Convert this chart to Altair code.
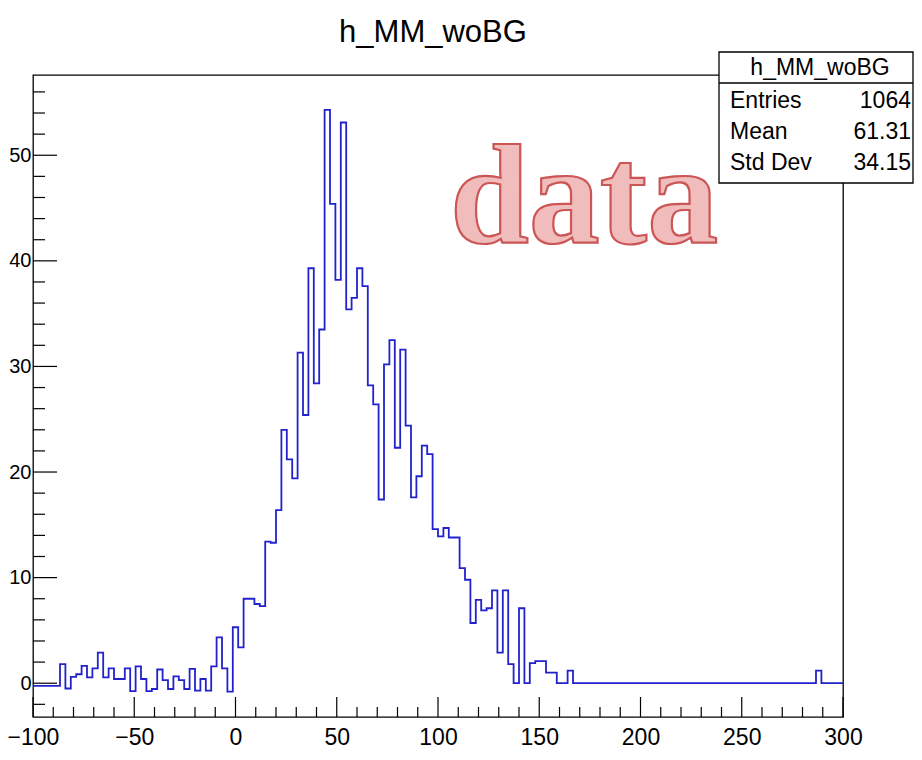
import altair as alt
import pandas as pd

# ---------------- data ----------------
TITLE = "h_MM_woBG"
X_MIN, X_MAX, N_BINS = -100.0, 300.0, 150
Y_MIN, Y_MAX = -3.2, 57.6

counts = [
    -0.25, -0.25, -0.25, -0.25, -0.25, 1.8, -0.5, 0.6, 0.85, 1.65,
    0.55, 1.4, 2.9, 0.55, 1.4, 0.4, 0.4, 1.4, -0.75, 1.6,
    0.4, -0.75, -0.55, 1.3, 0.3, -0.55, 0.65, 0.3, -0.55, 1.35,
    -0.7, 0.4, -0.7, 1.6, 4.35, 1.4, -0.8, 5.3, 3.4, 8.0,
    8.0, 7.5, 7.3, 13.4, 13.3, 16.4, 24.0, 21.2, 19.4, 31.3,
    25.4, 39.3, 28.4, 33.5, 54.3, 45.4, 38.2, 53.1, 35.4, 36.5,
    39.3, 37.6, 28.2, 26.4, 17.4, 30.2, 32.5, 22.3, 31.6, 24.4,
    17.6, 19.6, 22.5, 21.7, 14.6, 13.9, 14.7, 13.8, 13.8, 10.9,
    9.8, 5.7, 7.9, 6.9, 7.1, 8.8, 2.9, 8.8, 1.8, 0.0,
    7.1, 0.0, 1.9, 2.1, 2.1, 1.0, 1.0, 0.0, 0.0, 1.2,
    0, 0, 0, 0, 0, 0, 0, 0, 0, 0,
    0, 0, 0, 0, 0, 0, 0, 0, 0, 0,
    0, 0, 0, 0, 0, 0, 0, 0, 0, 0,
    0, 0, 0, 0, 0, 0, 0, 0, 0, 0,
    0, 0, 0, 0, 0, 1.2, 0, 0, 0, 0,
]

stat_labels = ["Entries", "Mean", "Std Dev"]
stat_values = ["1064", "61.31", "34.15"]
watermark = "data"

x_major = [-100, -50, 0, 50, 100, 150, 200, 250, 300]
x_minor = [-90, -80, -70, -60, -40, -30, -20, -10, 10, 20, 30, 40,
           60, 70, 80, 90, 110, 120, 130, 140, 160, 170, 180, 190,
           210, 220, 230, 240, 260, 270, 280, 290]
y_major = [0, 10, 20, 30, 40, 50]
y_minor = [-2, 2, 4, 6, 8, 12, 14, 16, 18, 22, 24, 26, 28, 32, 34, 36, 38,
           42, 44, 46, 48, 52, 54, 56]

# ---------------- layout ----------------
W, H = 810, 642
FONT = "Liberation Sans"
LINE_COLOR = "#2222cc"

bw = (X_MAX - X_MIN) / N_BINS
edges = [X_MIN + i * bw for i in range(N_BINS + 1)]
hist = pd.DataFrame({"x": edges, "y": counts + [counts[-1]]})

xs = alt.Scale(domain=[X_MIN, X_MAX], nice=False, zero=False)
ys = alt.Scale(domain=[Y_MIN, Y_MAX], nice=False, zero=False)

xaxis = alt.Axis(values=x_major, ticks=False, domain=False, grid=False,
                 labelFontSize=23, labelFont=FONT, labelColor="black",
                 labelPadding=9, labelFlush=False, labelOverlap=False, title=None)
yaxis = alt.Axis(values=y_major, ticks=False, domain=False, grid=False,
                 labelFontSize=20, labelFont=FONT, labelColor="black",
                 labelPadding=2, labelOverlap=False, title=None)

line = alt.Chart(hist).mark_line(
    interpolate="step-after", color=LINE_COLOR, strokeWidth=1.8
).encode(
    x=alt.X("x:Q", scale=xs, axis=xaxis),
    y=alt.Y("y:Q", scale=ys, axis=yaxis),
    order="x:Q",
)

xmaj = alt.Chart(pd.DataFrame({"x": x_major})).mark_rule(color="black", strokeWidth=1.2).encode(
    x=alt.X("x:Q", scale=xs, axis=xaxis), y=alt.value(H), y2=alt.value(H - 20))
xmin_ = alt.Chart(pd.DataFrame({"x": x_minor})).mark_rule(color="black", strokeWidth=1.2).encode(
    x=alt.X("x:Q", scale=xs, axis=xaxis), y=alt.value(H), y2=alt.value(H - 10))
ymaj = alt.Chart(pd.DataFrame({"y": y_major})).mark_rule(color="black", strokeWidth=1.2).encode(
    y=alt.Y("y:Q", scale=ys, axis=yaxis), x=alt.value(0), x2=alt.value(24))
ymin_ = alt.Chart(pd.DataFrame({"y": y_minor})).mark_rule(color="black", strokeWidth=1.2).encode(
    y=alt.Y("y:Q", scale=ys, axis=yaxis), x=alt.value(0), x2=alt.value(12))

one = pd.DataFrame({"a": [0]})

title_txt = alt.Chart(pd.DataFrame({"t": [TITLE]})).mark_text(
    font=FONT, fontSize=31, color="black", align="center", baseline="alphabetic"
).encode(text="t:N", x=alt.value(400), y=alt.value(-33))

wm = alt.Chart(pd.DataFrame({"t": [watermark]})).mark_text(
    font="Liberation Serif", fontWeight="bold", fontSize=142, fill="#f0bcbc",
    stroke="#cc5555", strokeWidth=2.2, align="center", baseline="alphabetic"
).encode(text="t:N", x=alt.value(551), y=alt.value(168))

box = alt.Chart(one).mark_rect(fill="white", stroke="black", strokeWidth=1.3).encode(
    x=alt.value(686), x2=alt.value(880), y=alt.value(-23), y2=alt.value(108))
sep = alt.Chart(one).mark_rule(color="black", strokeWidth=1.3).encode(
    x=alt.value(686), x2=alt.value(880), y=alt.value(8))
box_title = alt.Chart(pd.DataFrame({"t": [TITLE]})).mark_text(
    font=FONT, fontSize=23, color="black", align="center", baseline="middle"
).encode(text="t:N", x=alt.value(787), y=alt.value(-7))

stat_layers = []
row_y = [26, 57, 88]
for lab, val, yy in zip(stat_labels, stat_values, row_y):
    d = pd.DataFrame({"l": [lab], "v": [val]})
    stat_layers.append(alt.Chart(d).mark_text(
        font=FONT, fontSize=23, color="black", align="left", baseline="middle"
    ).encode(text="l:N", x=alt.value(697), y=alt.value(yy)))
    stat_layers.append(alt.Chart(d).mark_text(
        font=FONT, fontSize=23, color="black", align="right", baseline="middle"
    ).encode(text="v:N", x=alt.value(878), y=alt.value(yy)))

chart = alt.layer(
    line, wm, xmaj, xmin_, ymaj, ymin_, title_txt, box, sep, box_title, *stat_layers
).properties(
    width=W, height=H,
    autosize=alt.AutoSizeParams(type="none"),
    padding={"left": 25, "top": 67, "right": 71, "bottom": 40},
    background="white",
).configure_view(stroke="black", strokeWidth=1.3)

chart.save("out.html", embed_options={"renderer": "svg", "actions": False})
